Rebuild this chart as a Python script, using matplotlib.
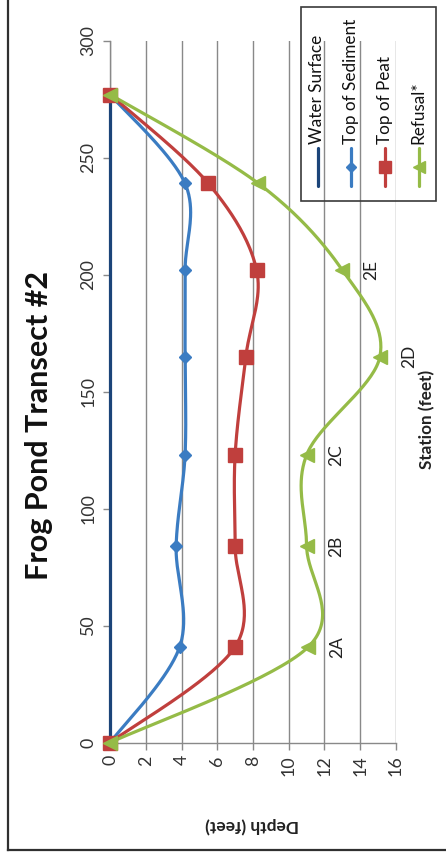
import numpy as np
import matplotlib
matplotlib.use("Agg")
import matplotlib.pyplot as plt
from matplotlib.lines import Line2D
from matplotlib.patches import Rectangle

plt.rcParams['font.family'] = ['Lato', 'DejaVu Sans']

# Survey data: station along the transect (feet) and depth below water (feet)
stations = [0, 41, 84, 123, 165, 202, 239, 277]
water_surface = [0, 0, 0, 0, 0, 0, 0, 0]
top_of_sediment = [0, 3.9, 3.7, 4.2, 4.2, 4.2, 4.2, 0]
top_of_peat = [0, 7.0, 7.0, 7.0, 7.6, 8.2, 5.5, 0]
refusal = [0, 11.1, 11.0, 11.0, 15.1, 13.0, 8.3, 0]
core_labels = ["", "2A", "2B", "2C", "2D", "2E", "", ""]

depth_ticks = list(range(0, 17, 2))
station_ticks = list(range(0, 301, 50))

W, H = 446, 859
FS = 12.8


def fx(px):
    return px / W


def fy(py):
    return 1 - py / H


def smooth(xs, ys, n=40):
    """Catmull-Rom style smoothing through every point (spreadsheet 'smoothed line')."""
    pts = np.column_stack([xs, ys]).astype(float)
    ext = np.vstack([pts[0], pts, pts[-1]])
    out = []
    t = np.linspace(0, 1, n)[:, None]
    for i in range(1, len(ext) - 2):
        p0, p1, p2, p3 = ext[i - 1], ext[i], ext[i + 1], ext[i + 2]
        c1 = p1 + (p2 - p0) / 6.0
        c2 = p2 - (p3 - p1) / 6.0
        seg = ((1 - t) ** 3) * p1 + 3 * ((1 - t) ** 2) * t * c1 + 3 * (1 - t) * t ** 2 * c2 + t ** 3 * p2
        out.append(seg if i == 1 else seg[1:])
    seg = np.vstack(out)
    return seg[:, 0], seg[:, 1]


fig = plt.figure(figsize=(W / 100, H / 100), dpi=100)
ax = fig.add_axes([fx(110), fy(742.7), (396 - 110) / W, (742.7 - 40.7) / H])

grid_c = '#898989'
series = [
    ("Water Surface", water_surface, '#1B4479', None, 0),
    ("Top of Sediment", top_of_sediment, '#3B7CC2', 'D', 6.3),
    ("Top of Peat", top_of_peat, '#C03F3D', 's', 10),
    ("Refusal*", refusal, '#95BB47', '<', 10),
]

for name, depths, color, marker, ms in series:
    sx, sy = smooth(depths, stations)
    ax.plot(sx, sy, color=color, lw=2.3, solid_capstyle='butt', zorder=3, clip_on=False)
    if marker:
        ax.plot(depths, stations, ls='none', marker=marker, ms=ms, color=color,
                mec=color, zorder=4, clip_on=False)

for d, s, lab in zip(refusal, stations, core_labels):
    if lab:
        ax.annotate(lab, (d, s), xytext=(21, 0), textcoords='offset points',
                    rotation=90, ha='center', va='center', fontsize=12.5,
                    color='#222222', annotation_clip=False)

ax.set_xlim(0, 16)
ax.set_ylim(0, 300)
ax.set_xticks(depth_ticks)
ax.set_yticks(station_ticks)
ax.set_xticklabels([str(v) for v in depth_ticks], rotation=90, fontsize=FS, color='#333333')
ax.set_yticklabels([str(v) for v in station_ticks], rotation=90, fontsize=FS, color='#333333',
                   va='center')
ax.tick_params(axis='both', direction='out', length=5, width=1, color=grid_c)
ax.tick_params(axis='x', pad=4)
ax.tick_params(axis='y', pad=5)
ax.grid(axis='x', color=grid_c, lw=1)
ax.set_axisbelow(True)
for side in ('top', 'right'):
    ax.spines[side].set_visible(False)
for side in ('left', 'bottom'):
    ax.spines[side].set_color(grid_c)
    ax.spines[side].set_linewidth(1)

# Titles
fig.text(fx(39), fy(426), "Frog Pond Transect #2", rotation=90, ha='center', va='center',
         fontsize=22, fontweight='bold', color='#111111')
fig.text(fx(252), fy(825), "Depth (feet)", rotation=180, ha='center', va='center',
         fontsize=12.5, fontweight='bold', color='#222222')
fig.text(fx(427), fy(419), "Station (feet)", rotation=90, ha='center', va='center',
         fontsize=12.3, fontweight='bold', color='#222222')

# Legend box drawn in figure space so its entries read along the rotated page
fig.add_artist(Rectangle((fx(301), fy(201)), (436 - 301) / W, (201 - 7) / H,
                         transform=fig.transFigure, fill=False, ec='#3a3a3a', lw=1.2))
leg_x = [317.5, 351, 385, 418.5]
for (name, depths, color, marker, ms), x in zip(series, leg_x):
    fig.add_artist(Line2D([fx(x), fx(x)], [fy(148), fy(186)], transform=fig.transFigure,
                          color=color, lw=2.3, solid_capstyle='round'))
    if marker:
        fig.add_artist(Line2D([fx(x)], [fy(167)], transform=fig.transFigure, ls='none',
                              marker=marker, ms=ms * 0.85, color=color, mec=color))
    fig.text(fx(x), fy(144), name, rotation=90, ha='center', va='bottom',
             fontsize=12.3, color='#111111')

# Outer chart border
fig.add_artist(Line2D([fx(7.5), fx(7.5)], [fy(850), 1.01], transform=fig.transFigure,
                      color='#303030', lw=1.6))
fig.add_artist(Line2D([fx(7.5), 1.01], [fy(850), fy(850)], transform=fig.transFigure,
                      color='#303030', lw=1.6))

fig.savefig("out.png", dpi=100)
